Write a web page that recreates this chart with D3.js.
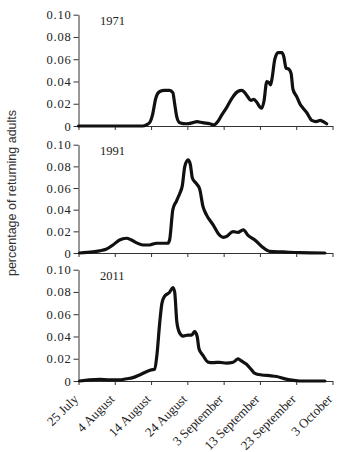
<!DOCTYPE html>
<html>
<head>
<meta charset="utf-8">
<script src="https://cdn.jsdelivr.net/npm/d3@7"></script>
<style>
  html, body { margin: 0; padding: 0; background: #fff; }
  svg { display: block; }
  .serif { font-family: "Liberation Serif", "Times New Roman", serif; }
</style>
</head>
<body>
<svg id="chart" width="337" height="452"></svg>
<script>
// ---- data (x = days after 25 July) ----
const years = ["1971", "1991", "2011"];

const days1971 = [0, 17.7, 18.7, 19.6, 20.4, 21.3, 22.4, 23.7, 25.1, 26, 26.5, 27.1, 27.9, 29.7, 31.5, 32.6, 34.2, 36.2, 37.3, 38.4, 39.5, 40.9, 42.5, 43.9, 45, 45.8, 46.7, 47.5, 48.3, 49.2, 50, 50.5, 51.1, 51.9, 52.5, 52.9, 53.3, 54.1, 55, 56.1, 56.6, 57.2, 58, 58.6, 59.1, 60.2, 61, 61.9, 62.9, 63.8, 64.3, 65.5, 66.6, 67.4, 68.4];
const vals1971 = [0, 0, 0.001, 0.003, 0.01, 0.025, 0.031, 0.032, 0.032, 0.03, 0.02, 0.008, 0.003, 0.002, 0.003, 0.004, 0.003, 0.002, 0.001, 0.004, 0.01, 0.017, 0.026, 0.031, 0.032, 0.03, 0.026, 0.023, 0.024, 0.021, 0.017, 0.016, 0.022, 0.04, 0.039, 0.037, 0.042, 0.06, 0.066, 0.066, 0.062, 0.052, 0.051, 0.047, 0.033, 0.026, 0.02, 0.016, 0.012, 0.007, 0.005, 0.004, 0.005, 0.004, 0.002];

const days1991 = [0.3, 3.9, 5.8, 7.6, 9.5, 11.3, 13.2, 14.6, 15.9, 17.8, 19.6, 21.5, 23.8, 24.6, 25.1, 26, 27, 27.9, 28.6, 29.3, 30.2, 30.8, 31.4, 32.5, 33.4, 34.3, 35.3, 37.1, 38.5, 39.9, 40.6, 42.6, 43.9, 45.4, 46.8, 48.6, 50.5, 52.7, 56.4, 61, 67.9];
const vals1991 = [0, 0.001, 0.002, 0.0034, 0.0074, 0.012, 0.0136, 0.012, 0.0096, 0.0074, 0.0074, 0.009, 0.009, 0.009, 0.012, 0.04, 0.048, 0.055, 0.062, 0.08, 0.086, 0.082, 0.069, 0.064, 0.059, 0.043, 0.035, 0.026, 0.018, 0.0145, 0.015, 0.0197, 0.019, 0.0213, 0.016, 0.012, 0.006, 0.0015, 0.001, 0.0003, 0];

const days2011 = [0.3, 3, 5.8, 8.6, 11.3, 13.2, 15, 16.8, 18.7, 20.1, 21, 21.6, 22.4, 23, 23.7, 25.1, 26, 26.5, 27.1, 27.9, 28.8, 30.2, 31.2, 32, 32.7, 33.2, 34.3, 35.7, 37.1, 38.9, 40.8, 42.6, 44, 44.9, 46.3, 47.7, 48.6, 50.5, 52.7, 54.6, 56.4, 58.3, 61, 67.9];
const vals2011 = [0, 0.001, 0.0015, 0.001, 0.001, 0.002, 0.003, 0.0054, 0.0084, 0.01, 0.0105, 0.023, 0.053, 0.07, 0.076, 0.0797, 0.084, 0.08, 0.053, 0.043, 0.0404, 0.0413, 0.0413, 0.0443, 0.04, 0.029, 0.023, 0.017, 0.0165, 0.0168, 0.016, 0.0168, 0.0198, 0.018, 0.015, 0.01, 0.0069, 0.0054, 0.0048, 0.004, 0.0024, 0.001, 0, 0];

const tickDays = [0, 10, 20, 30, 40, 50, 60, 70];
const tickLabels = ["25 July", "4 August", "14 August", "24 August", "3 September", "13 September", "23 September", "3 October"];
const yTicks = [0, 0.02, 0.04, 0.06, 0.08, 0.10];
const yTickLabels = ["0", "0.02", "0.04", "0.06", "0.08", "0.10"];
const yLabel = "percentage of returning adults";

const seriesDays = [days1971, days1991, days2011];
const seriesVals = [vals1971, vals1991, vals2011];

// ---- layout ----
const svg = d3.select("#chart");
const left = 78.5, right = 332.5;
const panels = [
  {top: 14.7, bottom: 126},
  {top: 144.7, bottom: 253},
  {top: 269.7, bottom: 381}
];

const x = d3.scaleLinear().domain([0, 70]).range([left, right]);

panels.forEach((p, i) => {
  const y = d3.scaleLinear().domain([0, 0.10]).range([p.bottom, p.top]);
  const g = svg.append("g");

  // y axis
  const ya = g.append("g")
    .attr("transform", `translate(${left},0)`)
    .call(d3.axisLeft(y).tickValues(yTicks).tickSize(5).tickSizeOuter(0).tickPadding(2)
      .tickFormat((d, k) => yTickLabels[k]));
  ya.selectAll("text").attr("class", "serif").style("font-size", "12.5px")
    .style("letter-spacing", "0.8px").attr("fill", "#222");

  // x axis
  const xa = g.append("g")
    .attr("transform", `translate(0,${p.bottom})`)
    .call(d3.axisBottom(x).tickValues(tickDays).tickSize(4).tickSizeOuter(0)
      .tickFormat((d, k) => i === 2 ? tickLabels[k] : ""));
  [ya, xa].forEach(a => {
    a.select(".domain").attr("stroke", "#333").attr("stroke-width", 1);
    a.selectAll(".tick line").attr("stroke", "#333");
  });
  if (i === 2) {
    xa.selectAll("text")
      .attr("class", "serif")
      .style("font-size", "13px")
      .attr("fill", "#222")
      .attr("text-anchor", "end")
      .attr("x", 0).attr("y", 0).attr("dy", 0)
      .attr("transform", "translate(0,19) rotate(-45)");
  }

  // year label
  g.append("text").attr("class", "serif")
    .attr("x", 100).attr("y", p.top + 10)
    .style("font-size", "12.5px").attr("fill", "#222")
    .text(years[i]);

  // line
  const pts = seriesDays[i].map((d, k) => [d, seriesVals[i][k]]);
  const line = d3.line().x(d => x(d[0])).y(d => y(d[1])).curve(d3.curveMonotoneX);
  g.append("path").datum(pts)
    .attr("d", line)
    .attr("fill", "none")
    .attr("stroke", "#111")
    .attr("stroke-width", 3.2)
    .attr("stroke-linejoin", "round")
    .attr("stroke-linecap", "round");
});

// y label
svg.append("text")
  .attr("transform", "translate(16,193) rotate(-90)")
  .attr("text-anchor", "middle")
  .style("font-family", "'Liberation Sans', Arial, sans-serif")
  .style("font-size", "12.5px")
  .attr("fill", "#333")
  .text(yLabel);
</script>
</body>
</html>
